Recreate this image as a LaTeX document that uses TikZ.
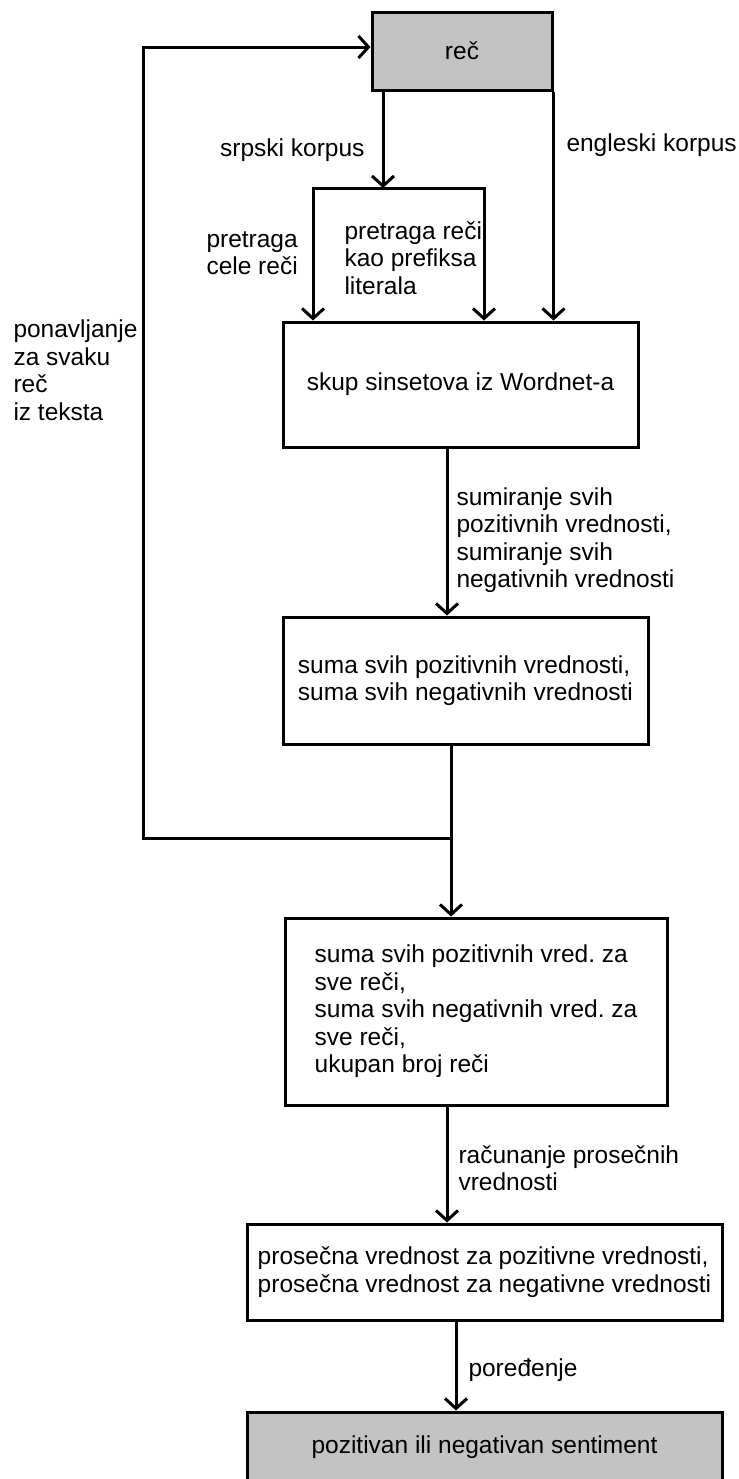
\documentclass[tikz,border=0pt]{standalone}
\usepackage{fontspec}
\setmainfont{Liberation Sans}
\usetikzlibrary{arrows.meta,positioning}
\definecolor{boxgray}{RGB}{195,195,195}
\frenchspacing

\begin{document}
\begin{tikzpicture}[x=0.5pt, y=-0.5pt, line width=1.5pt,
    every node/.style={font=\fontsize{12.25}{13.75}\selectfont},
    block/.style={draw, inner sep=0pt, align=left},
    lbl/.style={anchor=west, align=left, inner sep=0pt},
    arr/.style={-{Straight Barb[length=5pt,width=11pt]}}]
  \useasboundingbox (0,0) rectangle (739,1479);
  % boxes
  \node[block, fill=boxgray, minimum width=90pt, minimum height=39pt] (rec) at (462,51) {reč};
  \node[block, minimum width=177.5pt, minimum height=62.5pt] (wn) at (460.5,384.5) {skup sinsetova iz Wordnet-a};
  \node[block, minimum width=182.5pt, minimum height=63.5pt] (sum) at (465.5,680.5) {suma svih pozitivnih vrednosti,\\suma svih negativnih vrednosti};
  \node[block, minimum width=191pt, minimum height=93.5pt] (tot) at (476,1011.5) {suma svih pozitivnih vred. za\\sve reči,\\suma svih negativnih vred. za\\sve reči,\\ukupan broj reči};
  \node[block, minimum width=237.5pt, minimum height=48pt] (avg) at (484.5,1272) {prosečna vrednost za pozitivne vrednosti,\\prosečna vrednost za negativne vrednosti};
  \node[block, fill=boxgray, minimum width=237.5pt, minimum height=35pt] (sent) at (484.5,1447) {pozitivan ili negativan sentiment};

  % labels
  \node[lbl, anchor=east] (srp) at (366,150) {srpski korpus};
  \node[lbl] (eng) at (565,145) {engleski korpus};
  \node[lbl] (cele) at (205,253) {pretraga\\cele reči};
  \node[lbl] (pref) at (343,258) {pretraga reči\\kao prefiksa\\literala};
  \node[lbl] (sumi) at (455,540) {sumiranje svih\\pozitivnih vrednosti,\\sumiranje svih\\negativnih vrednosti};
  \node[lbl] (pon) at (12,370) {ponavljanje\\za svaku\\reč\\iz teksta};
  \node[lbl] (rac) at (457,1168) {računanje prosečnih\\vrednosti};
  \node[lbl] (por) at (467,1370) {poređenje};

  % split points
  \coordinate (sk) at (383,188);
  \coordinate (sl) at (313,188);
  \coordinate (sr) at (484,188);
  \coordinate (a1) at (447,0);
  \coordinate (jn) at (451,838);
  \coordinate (lp) at (143,838);
  \coordinate (lt) at (143,47);
  \coordinate (a4) at (456,0);

  % connectors
  \draw[arr] (rec.south -| sk) -- (sk);
  \draw[arr] (sr) -- (sl) -- (wn.north -| sl);
  \draw[arr, line cap=rect] (sr) -- (wn.north -| sr);
  \draw[arr] (rec.south east) -- (wn.north -| rec.south east);
  \draw[arr] (wn.south -| a1) -- (sum.north -| a1);
  \draw[arr] (sum.south -| jn) -- (tot.north -| jn);
  \draw[arr] (jn) -- (lp) -- (lt) -- (rec.west |- lt);
  \draw[arr] (tot.south -| a1) -- (avg.north -| a1);
  \draw[arr] (avg.south -| a4) -- (sent.north -| a4);
\end{tikzpicture}
\end{document}
